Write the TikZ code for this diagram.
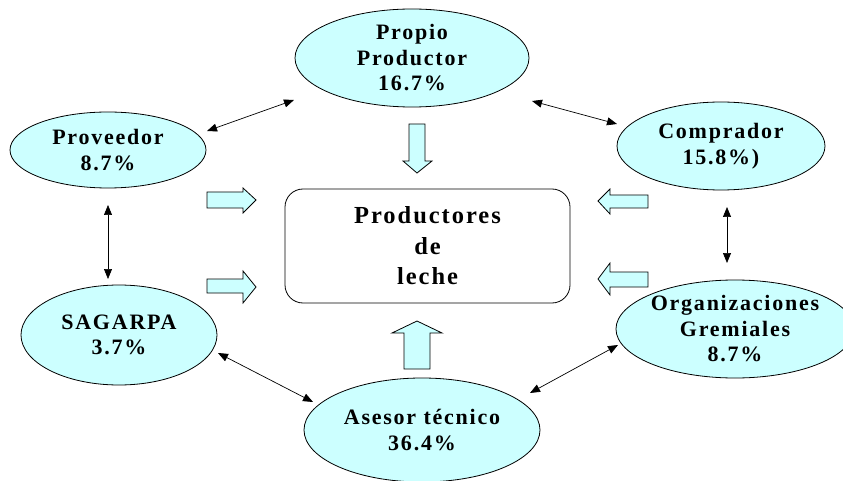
\documentclass[tikz,border=0pt]{standalone}
\usepackage{fontspec}
\setmainfont{Liberation Serif}[LetterSpace=8]
\usetikzlibrary{shapes.geometric,arrows.meta}
\definecolor{cyanfill}{HTML}{CCFFFF}
\tikzset{
  actor/.style={ellipse,draw=black,line width=0.8pt,fill=cyanfill,inner sep=0pt,align=center,
    font=\fontsize{22}{25.5}\selectfont\bfseries},
  center box/.style={rectangle,rounded corners=18pt,draw=black,line width=0.8pt,inner sep=0pt,align=center,
    font=\fontsize{24.5}{30.5}\selectfont\bfseries},
  blockarrow/.style={draw=black,line width=0.8pt,fill=cyanfill},
  link/.style={{Triangle[length=10pt,width=8pt]}-{Triangle[length=10pt,width=8pt]},line width=0.7pt}
}
\begin{document}
\begin{tikzpicture}[x=1pt,y=-1pt]
\useasboundingbox (0,0) rectangle (843,481);
\begin{scope}
\clip (0,0) rectangle (843,481);
\node[actor,minimum width=234pt,minimum height=98pt] (propio) at (412,58) {Propio\\Productor\\16.7\%};
\node[actor,minimum width=196pt,minimum height=76pt] (prov) at (108,150) {Proveedor\\8.7\%};
\node[actor,minimum width=196pt,minimum height=100pt] (sag) at (119,335) {SAGARPA\\3.7\%};
\node[actor,minimum width=208pt,minimum height=88pt] (comp) at (721,146) {Comprador\\15.8\%)};
\node[actor,minimum width=236pt,minimum height=98pt] (org) at (735,329) {Organizaciones\\Gremiales\\8.7\%};
\node[actor,minimum width=236pt,minimum height=104pt] (ases) at (422,430) {Asesor técnico\\36.4\%};
\node[center box,minimum width=285pt,minimum height=114pt] (prod) at (427.5,246) {Productores\\de\\leche};
\end{scope}
% block arrows
\draw[blockarrow] (409,124) -- (425,124) -- (425,161) -- (432,161) -- (417,173) -- (403,161) -- (409,161) -- cycle;
\draw[blockarrow] (404,369) -- (430,369) -- (430,333) -- (442,333) -- (417,321) -- (392,333) -- (404,333) -- cycle;
\draw[blockarrow] (207,192) -- (243,192) -- (243,188) -- (256,200) -- (243,213) -- (243,208) -- (207,208) -- cycle;
\draw[blockarrow] (207,279) -- (243,279) -- (243,271) -- (256,287) -- (243,303) -- (243,293) -- (207,293) -- cycle;
\draw[blockarrow] (648,195) -- (610,195) -- (610,189) -- (598,201) -- (610,214) -- (610,208) -- (648,208) -- cycle;
\draw[blockarrow] (648,272) -- (610,272) -- (610,263) -- (598,279) -- (610,295) -- (610,287) -- (648,287) -- cycle;
% connector end points
\coordinate (provA) at (207,131);
\coordinate (propA) at (294,100);
\coordinate (propB) at (532,101);
\coordinate (compA) at (617,124);
\coordinate (provB) at (108,205);
\coordinate (sagA) at (108,279);
\coordinate (compB) at (727,207);
\coordinate (orgA) at (727,263);
\coordinate (sagB) at (218,353);
\coordinate (asesA) at (313,402);
\coordinate (asesB) at (530,393);
\coordinate (orgB) at (618,345);
\draw[link] (provA) -- (propA);
\draw[link] (propB) -- (compA);
\draw[link] (provB) -- (sagA);
\draw[link] (compB) -- (orgA);
\draw[link] (sagB) -- (asesA);
\draw[link] (asesB) -- (orgB);
\end{tikzpicture}
\end{document}
